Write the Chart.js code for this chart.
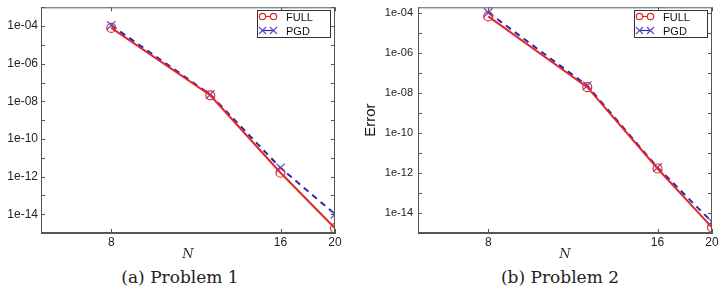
<!DOCTYPE html>
<html>
<head>
<meta charset="utf-8">
<script src="https://cdn.jsdelivr.net/npm/chart.js@4.4.1/dist/chart.umd.min.js"></script>
<style>
  body { margin: 0; background: #fff; width: 720px; height: 294px; overflow: hidden; position: relative; }
  .panel { position: absolute; top: 0; width: 360px; height: 262px; }
  .caption { position: absolute; top: 267px; font-family: "DejaVu Serif", "Liberation Serif", serif; font-size: 17px; color: #222; text-align: center; width: 200px; }
</style>
</head>
<body>
<div class="panel" style="left:0"><canvas id="chartA"></canvas></div>
<div class="panel" style="left:360px"><canvas id="chartB"></canvas></div>
<div class="caption" style="left:80px">(a) Problem 1</div>
<div class="caption" style="left:460px">(b) Problem 2</div>
<script>
  // data
  const nValues = [8, 12, 16, 20];
  const xTickValues = [8, 16, 20];
  const fullA = [8e-5, 2.1e-8, 1.6e-12, 1.8e-15];
  const pgdA = [1.1e-4, 2.3e-8, 2.9e-12, 1.0e-14];
  const fullB = [7e-5, 2.0e-8, 1.7e-12, 1.9e-15];
  const pgdB = [1.1e-4, 2.4e-8, 1.9e-12, 3.6e-15];
  const seriesNames = ["FULL", "PGD"];

  const RED = "#e2262a";
  const BLUE = "#2828aa";
  const BLUE_MARK = "#5a50d8";
  const FRAME = "#555";

  function points(ys) {
    return nValues.map(function (x, i) {
      return { x: x, y: ys[i] };
    });
  }

  // frame, inward ticks and legend box
  const framePlugin = {
    id: "frame",
    afterDraw: function (chart) {
      const ctx = chart.ctx;
      const a = chart.chartArea;
      ctx.save();
      ctx.strokeStyle = FRAME;
      ctx.lineWidth = 1;
      ctx.strokeRect(a.left + 0.5, a.top + 0.5, a.right - a.left - 1, a.bottom - a.top - 1);
      // inward tick marks
      chart.scales.y.ticks.forEach(function (t) {
        const y = Math.round(chart.scales.y.getPixelForValue(t.value)) + 0.5;
        ctx.beginPath();
        ctx.moveTo(a.left, y); ctx.lineTo(a.left + 4, y);
        ctx.moveTo(a.right, y); ctx.lineTo(a.right - 4, y);
        ctx.stroke();
      });
      chart.scales.x.ticks.forEach(function (t) {
        const x = Math.round(chart.scales.x.getPixelForValue(t.value)) + 0.5;
        ctx.beginPath();
        ctx.moveTo(x, a.bottom); ctx.lineTo(x, a.bottom - 4);
        ctx.moveTo(x, a.top); ctx.lineTo(x, a.top + 4);
        ctx.stroke();
      });

      // legend
      const bw = 73, bh = 27;
      const bx = a.right - bw - 5, by = 10;
      ctx.fillStyle = "#fff";
      ctx.fillRect(bx, by, bw, bh);
      ctx.strokeStyle = "#333";
      ctx.strokeRect(bx + 0.5, by + 0.5, bw, bh);
      ctx.font = "11px 'Liberation Sans', Arial, sans-serif";
      ctx.textBaseline = "middle";
      chart.data.datasets.forEach(function (ds, i) {
        const ly = by + 6.5 + i * 14;
        const x1 = bx + 5.5, x2 = bx + 16.5;
        ctx.strokeStyle = ds.borderColor;
        ctx.lineWidth = 1.2;
        ctx.setLineDash([]);
        ctx.beginPath(); ctx.moveTo(x1, ly); ctx.lineTo(x2, ly); ctx.stroke();
        [x1, x2].forEach(function (px) {
          ctx.strokeStyle = ds.pointBorderColor;
          ctx.beginPath();
          if (ds.pointStyle === "circle") {
            ctx.fillStyle = "#fff";
            ctx.arc(px, ly, 3.2, 0, Math.PI * 2);
            ctx.fill();
          } else {
            ctx.moveTo(px - 3.5, ly - 3.5); ctx.lineTo(px + 3.5, ly + 3.5);
            ctx.moveTo(px + 3.5, ly - 3.5); ctx.lineTo(px - 3.5, ly + 3.5);
          }
          ctx.stroke();
        });
        ctx.fillStyle = "#111";
        ctx.fillText(ds.label, bx + 29, ly + 1);
      });
      ctx.restore();
    },
  };

  function makeChart(id, full, pgd, yMin, yMax, yTitle, yWidth, yPad, yFont) {
    const ctx = document.getElementById(id).getContext("2d");
    return new Chart(ctx, {
      type: "line",
      data: {
        datasets: [
          {
            label: seriesNames[0],
            data: points(full),
            borderColor: RED,
            borderWidth: 2,
            pointStyle: "circle",
            pointRadius: 4.5,
            pointBorderColor: RED,
            pointBackgroundColor: "rgba(255,255,255,0)",
            pointBorderWidth: 1.2,
            tension: 0,
          },
          {
            label: seriesNames[1],
            data: points(pgd),
            borderColor: BLUE,
            borderWidth: 2,
            borderDash: [6, 5],
            pointStyle: "crossRot",
            pointRadius: 6,
            pointBorderColor: BLUE_MARK,
            pointBorderWidth: 1.3,
            tension: 0,
          },
        ],
      },
      options: {
        responsive: true,
        maintainAspectRatio: false,
        animation: false,
        layout: { padding: { top: 5, right: yTitle ? 8 : 25, left: 0, bottom: 0 } },
        plugins: { legend: { display: false }, tooltip: { enabled: false } },
        scales: {
          x: {
            type: "logarithmic",
            min: 6,
            max: 20,
            grid: { display: false, drawTicks: false, tickLength: 0 },
            border: { color: FRAME },
            afterBuildTicks: function (axis) {
              axis.ticks = xTickValues.map(function (v) {
                return { value: v };
              });
            },
            afterFit: function (axis) {
              axis.height = 29;
              axis.paddingLeft = 0;
              axis.paddingRight = 0;
            },
            ticks: {
              color: "#222",
              padding: 2,
              maxRotation: 0,
              font: { family: "'Liberation Sans', Arial, sans-serif", size: 12 },
              callback: function (v) {
                return String(v);
              },
            },
            title: {
              display: true,
              text: "N",
              color: "#333",
              padding: 0,
              font: { family: "'DejaVu Serif', serif", size: 13, style: "italic" },
            },
          },
          y: {
            type: "logarithmic",
            min: yMin,
            max: yMax,
            grid: { display: false, drawTicks: false, tickLength: 0 },
            border: { color: FRAME },
            afterBuildTicks: function (axis) {
              const t = [];
              for (let e = -15; e <= -3; e++) {
                const v = Math.pow(10, e);
                if (v >= yMin && v <= yMax) t.push({ value: v });
              }
              axis.ticks = t;
            },
            afterFit: function (axis) {
              axis.width = yWidth;
              axis.paddingTop = 0;
              axis.paddingBottom = 0;
            },
            ticks: {
              color: "#222",
              padding: yPad,
              autoSkip: false,
              font: { family: "'Liberation Sans', Arial, sans-serif", size: yFont },
              callback: function (v) {
                const e = Math.round(Math.log10(v));
                if (e % 2 !== 0 || e < -14 || e > -4) return "";
                return "1e-" + String(-e).padStart(2, "0");
              },
            },
            title: {
              display: !!yTitle,
              text: yTitle || "",
              color: "#111",
              padding: { top: 2, bottom: 0 },
              font: { family: "'Liberation Sans', Arial, sans-serif", size: 15 },
            },
          },
        },
      },
      plugins: [framePlugin],
    });
  }

  makeChart("chartA", fullA, pgdA, 1e-15, 1e-3, null, 41, 3, 12);
  makeChart("chartB", fullB, pgdB, 1e-15, 2e-4, "Error", 58, 5, 11);
</script>
</body>
</html>
